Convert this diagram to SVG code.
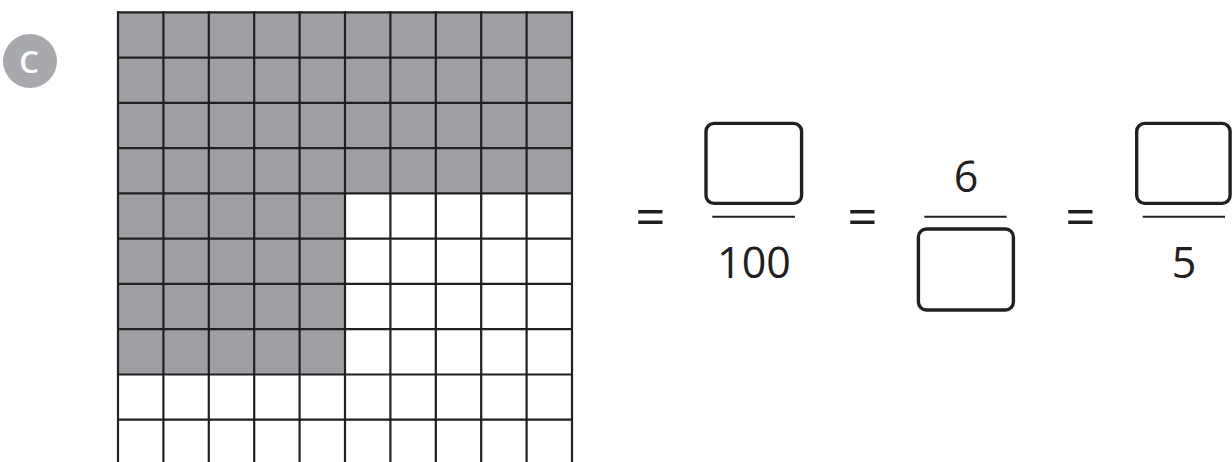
<svg xmlns="http://www.w3.org/2000/svg" width="1232" height="462" viewBox="0 0 1232 462">
<style>
.grid line{stroke:#231f20;stroke-width:2.2}
.shade{fill:#9d9fa2}
.box{fill:none;stroke:#231f20;stroke-width:3.4}
.bar{stroke:#231f20;stroke-width:2}
.t{font-family:"Open Sans","Liberation Sans",sans-serif;font-size:43px;fill:#231f20;text-anchor:middle}
.eq{font-family:"Open Sans","Liberation Sans",sans-serif;font-size:53px;fill:#231f20;text-anchor:middle}
</style>
<rect width="1232" height="462" fill="#fff"/>
<g id="label-c">
<circle cx="30" cy="61" r="27" fill="#a7a9ac"/>
<text x="29" y="73" font-family="'Open Sans', 'Liberation Sans', sans-serif" font-size="31" font-weight="600" fill="#fff" text-anchor="middle">C</text>
</g>
<g id="grid">
<rect class="shade" x="118" y="12.3" width="454" height="181.1"/>
<rect class="shade" x="118" y="193.4" width="227" height="181.1"/>
<g class="grid">
<line x1="118" y1="11.2" x2="118" y2="462"/>
<line x1="163.4" y1="11.2" x2="163.4" y2="462"/>
<line x1="208.8" y1="11.2" x2="208.8" y2="462"/>
<line x1="254.2" y1="11.2" x2="254.2" y2="462"/>
<line x1="299.6" y1="11.2" x2="299.6" y2="462"/>
<line x1="345" y1="11.2" x2="345" y2="462"/>
<line x1="390.4" y1="11.2" x2="390.4" y2="462"/>
<line x1="435.8" y1="11.2" x2="435.8" y2="462"/>
<line x1="481.2" y1="11.2" x2="481.2" y2="462"/>
<line x1="526.6" y1="11.2" x2="526.6" y2="462"/>
<line x1="572" y1="11.2" x2="572" y2="462"/>
<line x1="117" y1="12.3" x2="573" y2="12.3"/>
<line x1="117" y1="57.6" x2="573" y2="57.6"/>
<line x1="117" y1="102.8" x2="573" y2="102.8"/>
<line x1="117" y1="148.1" x2="573" y2="148.1"/>
<line x1="117" y1="193.4" x2="573" y2="193.4"/>
<line x1="117" y1="238.6" x2="573" y2="238.6"/>
<line x1="117" y1="283.9" x2="573" y2="283.9"/>
<line x1="117" y1="329.2" x2="573" y2="329.2"/>
<line x1="117" y1="374.5" x2="573" y2="374.5"/>
<line x1="117" y1="419.7" x2="573" y2="419.7"/>
</g>
</g>
<g id="fraction-1">
<text class="eq" x="650.5" y="236.3">=</text>
<rect class="box" x="706" y="123.4" width="95.6" height="80" rx="8"/>
<line class="bar" x1="712.3" y1="216.7" x2="795" y2="216.7"/>
<text class="t" x="754" y="277.7">100</text>
</g>
<g id="fraction-2">
<text class="eq" x="862.5" y="236.3">=</text>
<text class="t" x="966" y="191.7">6</text>
<line class="bar" x1="924.3" y1="216.7" x2="1006.7" y2="216.7"/>
<rect class="box" x="918.4" y="229" width="95" height="81" rx="8"/>
</g>
<g id="fraction-3">
<text class="eq" x="1080.5" y="236.3">=</text>
<rect class="box" x="1136.7" y="123.4" width="93.4" height="80" rx="8"/>
<line class="bar" x1="1142.7" y1="216.7" x2="1225" y2="216.7"/>
<text class="t" x="1184" y="278">5</text>
</g>
</svg>
